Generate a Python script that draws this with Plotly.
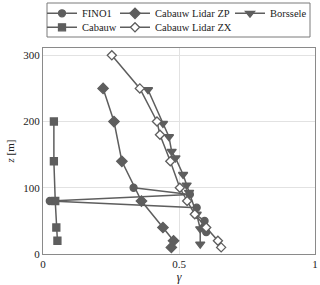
import plotly.graph_objects as go

# ---- data ----
fino1_z = [100, 90, 80, 70, 60, 50, 40, 33]
fino1_g = [0.333, 0.54, 0.025, 0.565, 0.56, 0.594, 0.59, 0.60]

zp_z = [250, 200, 140, 80, 40, 20, 10]
zp_g = [0.221, 0.261, 0.29, 0.362, 0.441, 0.48, 0.472]

borssele_z = [248, 197, 177, 155, 145, 120, 104, 93, 60, 38, 15]
borssele_g = [0.386, 0.441, 0.463, 0.473, 0.487, 0.515, 0.528, 0.537, 0.565, 0.578, 0.578]

cabauw_z = [200, 140, 80, 40, 20]
cabauw_g = [0.04, 0.04, 0.045, 0.049, 0.053]

zx_z = [300, 250, 200, 180, 140, 100, 80, 60, 40, 20, 10]
zx_g = [0.253, 0.356, 0.419, 0.43, 0.468, 0.503, 0.53, 0.558, 0.60, 0.643, 0.655]

x_ticks = [0, 0.5, 1]
x_tick_labels = ["0", "0.5", "1"]
y_ticks = [0, 100, 200, 300]
y_tick_labels = ["0", "100", "200", "300"]

# ---- style / geometry ----
W, H = 320, 285
ML, MR, MT, MB = 43, 5, 48, 31
PW, PH = W - ML - MR, H - MT - MB
GRAY = "#5e5e5e"
FONT = "Liberation Serif, Times New Roman, serif"


def px2x(px):
    return (px - ML) / PW


def py2y(py):
    return (H - MB - py) / PH


fig = go.Figure()


def add(name, g, z, symbol, size, legend, fill=GRAY):
    fig.add_trace(go.Scatter(
        x=g, y=z, name=name, mode="lines+markers", legend=legend,
        line=dict(color=GRAY, width=1.5),
        marker=dict(symbol=symbol, size=size, color=fill,
                    line=dict(color=GRAY, width=1.3)),
    ))


add("FINO1", fino1_g, fino1_z, "circle", 7, "legend")
add("Cabauw Lidar ZP", zp_g, zp_z, "diamond", 8, "legend3")
add("Borssele", borssele_g, borssele_z, "triangle-down", 8, "legend5")
add("Cabauw", cabauw_g, cabauw_z, "square", 7, "legend2")
add("Cabauw Lidar ZX", zx_g, zx_z, "diamond", 7, "legend4", fill="white")

leg_font = dict(family=FONT, size=10.5, color="#222")
row1, row2 = py2y(13.3), py2y(27.3)
col1, col2, col3 = px2x(42), px2x(115), px2x(230)


def leg(x, y):
    return dict(x=x, y=y, xanchor="left", yanchor="middle", orientation="v",
                bgcolor="rgba(0,0,0,0)", borderwidth=0, font=leg_font,
                itemwidth=30, tracegroupgap=0)


fig.update_layout(
    width=W, height=H,
    margin=dict(l=ML, r=MR, t=MT, b=MB, autoexpand=False),
    paper_bgcolor="white", plot_bgcolor="white",
    font=dict(family=FONT, size=11, color="#222"),
    showlegend=True,
    legend=leg(col1, row1),
    legend2=leg(col1, row2),
    legend3=leg(col2, row1),
    legend4=leg(col2, row2),
    legend5=leg(col3, row1),
    xaxis=dict(range=[0, 1], tickvals=x_ticks, ticktext=x_tick_labels,
               showgrid=True, gridcolor="#e2e2e2", gridwidth=1,
               zeroline=False, showline=True, linecolor="#8a8a8a",
               linewidth=1, mirror=True, ticks="",
               title=dict(text="<i>γ</i>", standoff=1,
                          font=dict(family=FONT, size=12, color="#222"))),
    yaxis=dict(range=[0, 311], tickvals=y_ticks, ticktext=y_tick_labels,
               showgrid=True, gridcolor="#e2e2e2", gridwidth=1,
               zeroline=False, showline=True, linecolor="#8a8a8a",
               linewidth=1, mirror=True, ticks="",
               title=dict(text="<i>z</i> [m]", standoff=6,
                          font=dict(family=FONT, size=11, color="#222"))),
    shapes=[dict(type="rect", xref="paper", yref="paper",
                 x0=px2x(47), x1=px2x(310), y0=py2y(37), y1=py2y(3),
                 line=dict(color="#7a7a7a", width=1), fillcolor="rgba(0,0,0,0)")],
)

fig.write_html(
    "out.html",
    config={"displayModeBar": False},
    post_script="document.body.style.margin='0';document.body.style.overflow='hidden';",
)
